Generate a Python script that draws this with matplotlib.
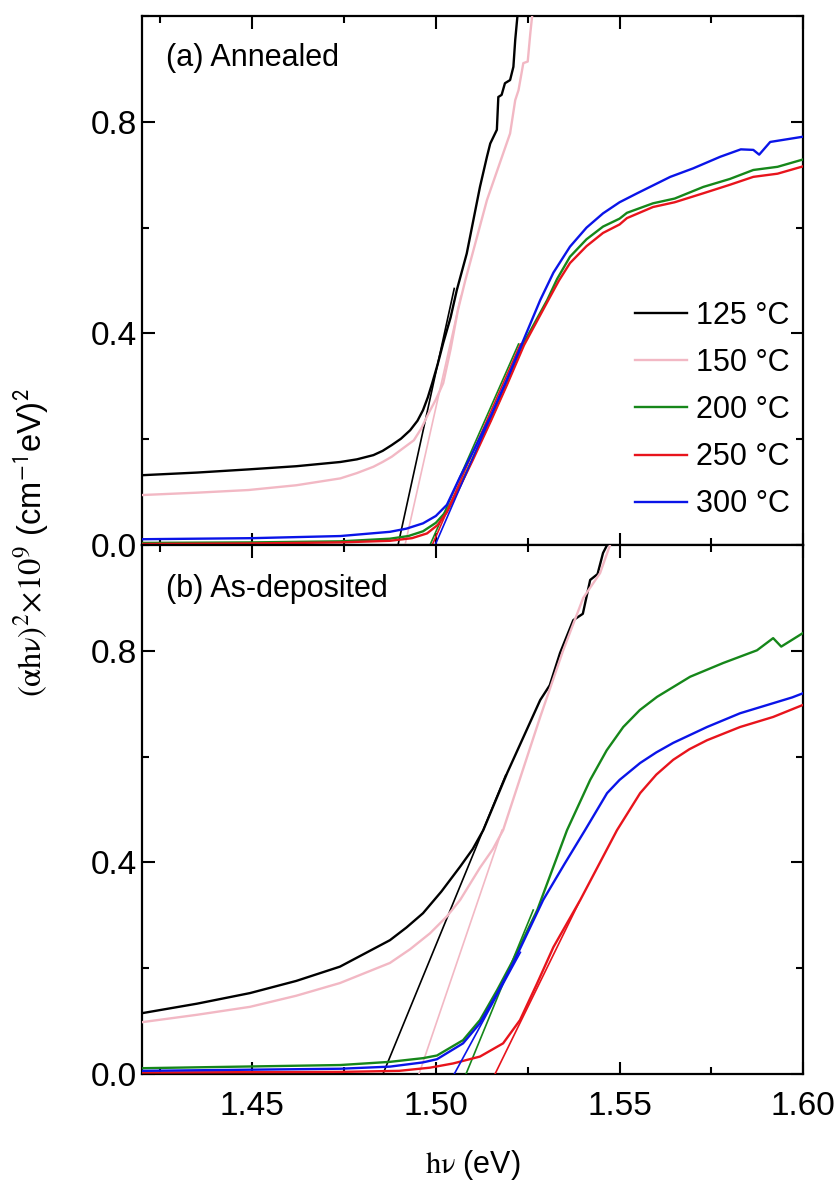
import numpy as np
import matplotlib
matplotlib.use("Agg")
import matplotlib.pyplot as plt
from matplotlib.ticker import MultipleLocator, FormatStrFormatter

plt.rcParams['font.family'] = ['Liberation Sans Narrow', 'Liberation Sans', 'DejaVu Sans']
plt.rcParams['mathtext.fontset'] = 'stix'

labels = ['125 °C', '150 °C', '200 °C', '250 °C', '300 °C']
colors = ['black', '#f2b8c4', '#16871a', '#e8141c', '#0a14e8']

# (a) annealed
a_x125 = [1.420, 1.435, 1.449, 1.462, 1.474, 1.4785, 1.483, 1.4855, 1.488, 1.4905, 1.493, 1.495,
          1.4965, 1.4978, 1.499, 1.5005, 1.502, 1.504, 1.5057, 1.5084, 1.5120,
          1.5139, 1.5148, 1.5166, 1.5170, 1.5179, 1.5188, 1.5202, 1.5211, 1.5216, 1.5222]
a_y125 = [0.132, 0.137, 0.143, 0.149, 0.157, 0.162, 0.170, 0.178, 0.189, 0.201, 0.217, 0.235,
          0.255, 0.279, 0.306, 0.342, 0.382, 0.430, 0.482, 0.551, 0.677,
          0.734, 0.759, 0.785, 0.847, 0.851, 0.873, 0.879, 0.904, 0.955, 1.0]
a_x150 = [1.420, 1.435, 1.449, 1.462, 1.474, 1.4785, 1.483, 1.4855, 1.488, 1.4905, 1.494, 1.496,
          1.498, 1.500, 1.502, 1.504, 1.506, 1.508, 1.5139, 1.5202,
          1.5216, 1.5225, 1.5238, 1.5250, 1.5257, 1.5262]
a_y150 = [0.0945, 0.099, 0.104, 0.113, 0.126, 0.136, 0.148, 0.157, 0.167, 0.180, 0.198, 0.220,
          0.249, 0.275, 0.306, 0.370, 0.444, 0.500, 0.652, 0.778,
          0.841, 0.860, 0.911, 0.914, 0.967, 1.0]
a_x200 = [1.420, 1.450, 1.474, 1.4875, 1.4925, 1.4965, 1.500, 1.503, 1.5066, 1.510, 1.515, 1.5193,
          1.524, 1.5303, 1.533, 1.5365, 1.541, 1.5455, 1.550, 1.5520, 1.5591, 1.5650, 1.5728,
          1.5800, 1.5864, 1.5930, 1.600]
a_y200 = [0.004, 0.005, 0.007, 0.012, 0.017, 0.026, 0.042, 0.065, 0.112, 0.163, 0.238, 0.305,
          0.383, 0.463, 0.503, 0.545, 0.578, 0.602, 0.617, 0.628, 0.646, 0.655, 0.677,
          0.692, 0.709, 0.715, 0.729]
a_x250 = [1.420, 1.450, 1.474, 1.4875, 1.4935, 1.4976, 1.5005, 1.503, 1.5058, 1.510, 1.515, 1.5193,
          1.524, 1.5306, 1.5335, 1.5365, 1.541, 1.5455, 1.550, 1.5520, 1.5591, 1.5650, 1.5728,
          1.5800, 1.5864, 1.5930, 1.600]
a_y250 = [0.002, 0.003, 0.005, 0.008, 0.013, 0.022, 0.038, 0.062, 0.100, 0.160, 0.235, 0.302,
          0.378, 0.463, 0.500, 0.533, 0.565, 0.590, 0.606, 0.618, 0.639, 0.648, 0.665,
          0.681, 0.696, 0.702, 0.716]
a_x300 = [1.420, 1.450, 1.474, 1.4875, 1.492, 1.4965, 1.500, 1.503, 1.5066, 1.510, 1.515, 1.5193,
          1.524, 1.5284, 1.532, 1.5365, 1.541, 1.5455, 1.550, 1.5548, 1.5638, 1.5700, 1.5774,
          1.5830, 1.5864, 1.5880, 1.591, 1.600]
a_y300 = [0.011, 0.013, 0.017, 0.025, 0.031, 0.041, 0.055, 0.076, 0.129, 0.175, 0.245, 0.312,
          0.390, 0.463, 0.515, 0.564, 0.600, 0.627, 0.648, 0.665, 0.696, 0.712, 0.734,
          0.748, 0.747, 0.738, 0.762, 0.772]
# linear fits (a): x start, x end, y end
a_fit_x0 = [1.4897, 1.4916, 1.4984, 1.4990, 1.4998]
a_fit_x1 = [1.5050, 1.5068, 1.5225, 1.5230, 1.5235]
a_fit_y1 = [0.485, 0.47, 0.38, 0.38, 0.38]

# (b) as-deposited
b_x125 = [1.420, 1.435, 1.4494, 1.462, 1.4739, 1.4875, 1.492, 1.4965, 1.5015, 1.5066, 1.510, 1.5129,
          1.5194, 1.5284, 1.5310, 1.5338, 1.5374, 1.5400, 1.5420, 1.5440, 1.5455, 1.5466]
b_y125 = [0.115, 0.133, 0.153, 0.176, 0.203, 0.253, 0.277, 0.304, 0.345, 0.392, 0.425, 0.461,
          0.569, 0.707, 0.735, 0.796, 0.858, 0.870, 0.934, 0.945, 0.985, 1.0]
b_x150 = [1.420, 1.435, 1.4494, 1.462, 1.4739, 1.4875, 1.493, 1.4984, 1.503, 1.5066, 1.512, 1.5155,
          1.5183, 1.5284, 1.5346, 1.5401, 1.5447, 1.5474]
b_y150 = [0.098, 0.112, 0.127, 0.148, 0.172, 0.210, 0.236, 0.266, 0.298, 0.329, 0.390, 0.425,
          0.461, 0.675, 0.800, 0.900, 0.947, 1.0]
b_x200 = [1.420, 1.474, 1.4875, 1.4965, 1.5003, 1.5074, 1.512, 1.5167, 1.521, 1.5276, 1.5357, 1.542,
          1.5465, 1.551, 1.5555, 1.5602, 1.5692, 1.5782, 1.5874, 1.5918, 1.5940, 1.600]
b_y200 = [0.011, 0.017, 0.023, 0.030, 0.035, 0.064, 0.102, 0.159, 0.215, 0.310, 0.461, 0.556,
          0.612, 0.656, 0.688, 0.713, 0.751, 0.777, 0.801, 0.824, 0.808, 0.834]
b_x250 = [1.420, 1.474, 1.490, 1.4984, 1.5047, 1.512, 1.5183, 1.5229, 1.5276, 1.532, 1.5393, 1.5493,
          1.5556, 1.560, 1.5646, 1.569, 1.5738, 1.5828, 1.5918, 1.600]
b_y250 = [0.003, 0.004, 0.006, 0.012, 0.020, 0.033, 0.058, 0.102, 0.172, 0.240, 0.329, 0.461,
          0.531, 0.566, 0.594, 0.614, 0.631, 0.656, 0.675, 0.698]
b_x300 = [1.420, 1.474, 1.4875, 1.4965, 1.5003, 1.5074, 1.512, 1.5167, 1.521, 1.5292, 1.535, 1.5406,
          1.5466, 1.550, 1.5556, 1.560, 1.5646, 1.5738, 1.5828, 1.5918, 1.5970, 1.600]
b_y300 = [0.006, 0.010, 0.014, 0.022, 0.028, 0.058, 0.096, 0.153, 0.209, 0.329, 0.397, 0.461,
          0.531, 0.556, 0.588, 0.608, 0.626, 0.656, 0.682, 0.701, 0.712, 0.720]
b_fit_x0 = [1.4856, 1.4954, 1.5082, 1.5161, 1.5050]
b_fit_x1 = [1.5190, 1.5180, 1.5265, 1.5390, 1.5230]
b_fit_y1 = [0.565, 0.461, 0.310, 0.325, 0.230]

a_curves = [(a_x125, a_y125), (a_x150, a_y150), (a_x200, a_y200), (a_x250, a_y250), (a_x300, a_y300)]
b_curves = [(b_x125, b_y125), (b_x150, b_y150), (b_x200, b_y200), (b_x250, b_y250), (b_x300, b_y300)]

fig = plt.figure(figsize=(8.35, 11.89), dpi=100)
ax1 = fig.add_axes([0.170, 0.5416, 0.792, 0.4449])
ax2 = fig.add_axes([0.170, 0.0967, 0.792, 0.4449], sharex=ax1)

for ax, curves, fx0, fx1, fy1 in [(ax1, a_curves, a_fit_x0, a_fit_x1, a_fit_y1),
                                   (ax2, b_curves, b_fit_x0, b_fit_x1, b_fit_y1)]:
    for i, (x, y) in enumerate(curves):
        ax.plot(x, y, color=colors[i], lw=1.7, label=labels[i], zorder=3 + i,
                solid_joinstyle='round')
        ax.plot([fx0[i], fx1[i]], [0, fy1[i]], color=colors[i], lw=1.2, zorder=3 + i)
    ax.set_xlim(1.42, 1.60)
    ax.set_ylim(0, 1.0)
    ax.xaxis.set_major_locator(MultipleLocator(0.05))
    ax.xaxis.set_minor_locator(MultipleLocator(0.025))
    ax.yaxis.set_major_locator(MultipleLocator(0.4))
    ax.yaxis.set_minor_locator(MultipleLocator(0.2))
    ax.tick_params(which='both', direction='in', top=True, right=True, width=1.5, labelsize=24)
    ax.tick_params(which='major', length=9)
    ax.tick_params(which='minor', length=5)
    ax.yaxis.set_major_formatter(FormatStrFormatter('%.1f'))
    for s in ax.spines.values():
        s.set_linewidth(1.6)

ax1.tick_params(labelbottom=False)
ax2.xaxis.set_major_formatter(FormatStrFormatter('%.2f'))
ax2.tick_params(axis='x', pad=12)

ax1.text(0.036, 0.905, '(a) Annealed', transform=ax1.transAxes, fontsize=22, va='baseline')
ax2.text(0.036, 0.902, '(b) As-deposited', transform=ax2.transAxes, fontsize=22, va='baseline')

ax1.legend(loc='center left', bbox_to_anchor=(0.722, 0.255), frameon=False, fontsize=22,
           handlelength=1.7, handletextpad=0.3, labelspacing=0.56, borderpad=0)

fig.text(0.038, 0.544, r'$(\mathrm{αhν})^2\!\times\!10^9$ (cm$^{\mathsf{-1}}$eV)$^{\mathsf{2}}$',
         rotation=90, ha='center', va='center', fontsize=23.5)
fig.text(0.566, 0.020, r'$\mathrm{hν}$ (eV)', ha='center', va='center', fontsize=22)

fig.savefig('out.png', dpi=100)
